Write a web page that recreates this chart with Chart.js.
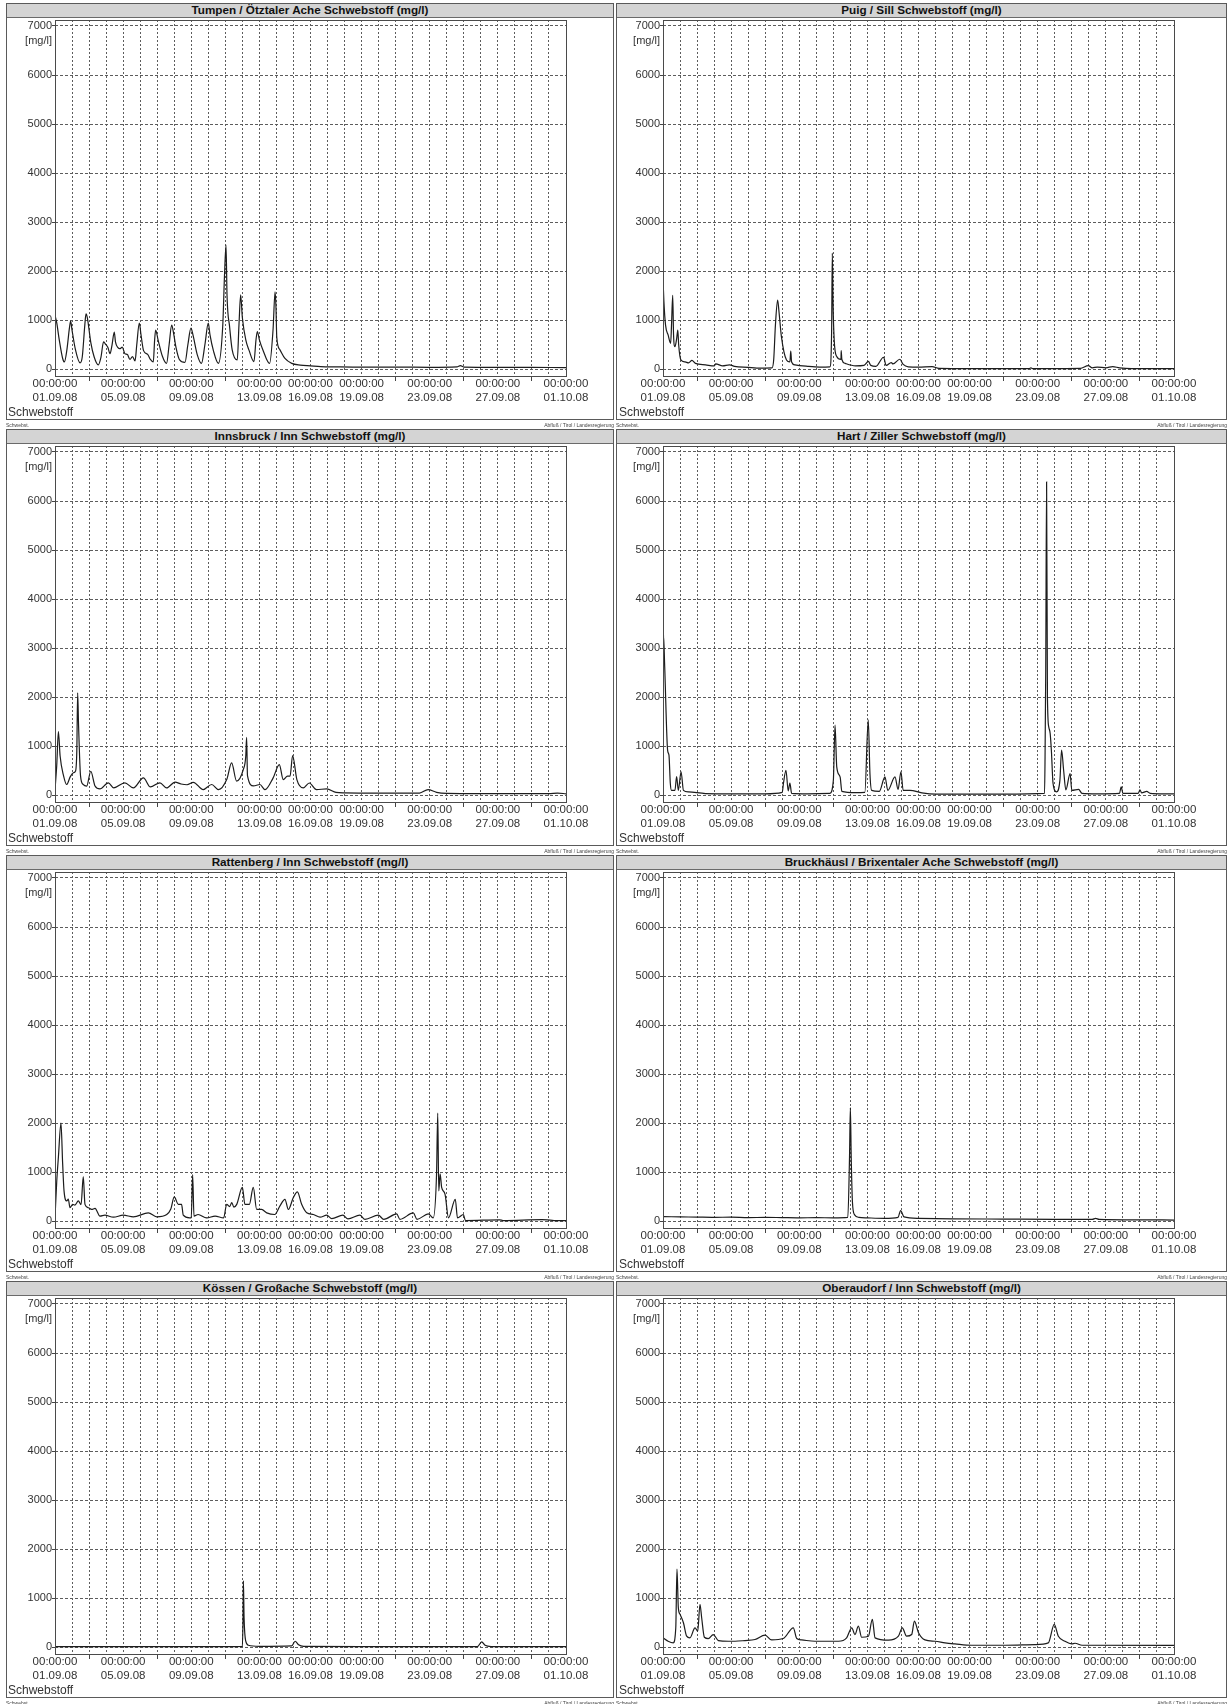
<!DOCTYPE html>
<html>
<head>
<meta charset="utf-8">
<script src="https://cdn.jsdelivr.net/npm/chart.js@4.4.1/dist/chart.umd.min.js"></script>
<style>
  html, body { margin: 0; padding: 0; background: #fff; }
  #page { position: relative; width: 1228px; height: 1704px; font-family: "Liberation Sans", Arial, sans-serif; overflow: hidden; }
  .panel { position: absolute; }
  .frame { position: absolute; left: 0; top: 0; right: 0; bottom: 0; border: 1px solid #5a5a5a; box-sizing: border-box; pointer-events: none; }
  .title { position: absolute; left: 0; right: 0; top: 0; height: 15px; background: #d4d4d4; border-bottom: 1px solid #6a6a6a; box-sizing: border-box;
           font-weight: bold; font-size: 11.7px; line-height: 14px; text-align: center; color: #111; white-space: nowrap; }
  canvas { position: absolute; left: 0; top: 15px; }
  .foot { position: absolute; top: 419px; font-size: 5px; line-height: 6px; color: #444; white-space: nowrap; }
</style>
</head>
<body>
<div id="page"></div>
<script>
// ---- axis definitions ----
const yTicks = [0, 1000, 2000, 3000, 4000, 5000, 6000, 7000];
const dayGrid = Array.from({ length: 31 }, (_, i) => i);          // one grid line per day, 01.09 .. 01.10
const labelDays = [0, 4, 8, 12, 15, 18, 22, 26, 30];
const labelDates = ['01.09.08', '05.09.08', '09.09.08', '13.09.08', '16.09.08', '19.09.08', '23.09.08', '27.09.08', '01.10.08'];
const labelTime = '00:00:00';
const minorTickDays = [2, 6, 10, 20, 24, 28];

// ---- station titles ----
const titles = [
  'Tumpen / Ötztaler Ache Schwebstoff (mg/l)',
  'Puig / Sill Schwebstoff (mg/l)',
  'Innsbruck / Inn Schwebstoff (mg/l)',
  'Hart / Ziller Schwebstoff (mg/l)',
  'Rattenberg / Inn Schwebstoff (mg/l)',
  'Bruckhäusl / Brixentaler Ache Schwebstoff (mg/l)',
  'Kössen / Großache Schwebstoff (mg/l)',
  'Oberaudorf / Inn Schwebstoff (mg/l)'
];

// ---- suspended sediment, [day since 01.09.08 00:00, mg/l] ----
const tumpen = [
  [0,1100],[0.1,950],[0.25,600],[0.45,220],[0.55,150],[0.7,400],[0.85,850],[0.92,980],[1.0,800],[1.2,400],[1.47,130],[1.6,250],
  [1.75,900],[1.82,1130],[1.9,1050],[2.1,550],[2.3,250],[2.54,90],[2.7,250],[2.85,560],[2.95,520],[3.1,450],[3.23,320],[3.35,500],
  [3.48,760],[3.55,560],[3.7,440],[3.8,420],[3.95,450],[4.1,320],[4.25,300],[4.4,200],[4.55,260],[4.7,170],[4.8,500],[4.95,940],
  [5.05,700],[5.2,380],[5.45,300],[5.6,200],[5.77,150],[5.85,600],[5.91,800],[6.05,600],[6.3,270],[6.55,120],[6.7,500],[6.85,900],
  [6.95,760],[7.1,450],[7.3,200],[7.63,140],[7.8,500],[7.98,840],[8.1,700],[8.35,300],[8.6,120],[8.8,500],[9.0,940],[9.1,700],
  [9.3,380],[9.59,120],[9.85,900],[9.95,1900],[10.04,2530],[10.1,1500],[10.25,870],[10.4,400],[10.7,190],[10.8,900],[10.9,1520],
  [11.0,1050],[11.2,600],[11.4,380],[11.68,155],[11.8,600],[11.88,770],[12.0,600],[12.2,400],[12.6,120],[12.8,800],[12.92,1580],
  [12.97,1300],[13.02,650],[13.2,400],[13.5,220],[13.9,120],[14.4,85],[15.0,70],[15.6,55],[16.5,50],[18,45],[20,45],[22,40],
  [23.6,50],[23.8,75],[24.0,45],[26,40],[28,38],[30,35]
];
const puig = [
  [0,1850],[0.05,1400],[0.15,900],[0.3,700],[0.45,530],[0.5,900],[0.57,1510],[0.62,700],[0.7,460],[0.8,620],[0.87,800],[0.92,500],
  [1.05,190],[1.3,150],[1.5,130],[1.7,180],[1.9,120],[2.5,90],[3,70],[3.1,110],[3.5,70],[3.9,90],[4.2,60],[5,40],[5.5,25],[6.4,30],
  [6.5,200],[6.6,900],[6.73,1410],[6.8,1210],[6.95,670],[7.25,190],[7.45,150],[7.5,370],[7.55,150],[7.75,90],[8.5,60],[9.2,45],
  [9.8,50],[9.9,800],[9.94,2370],[9.98,1400],[10.05,600],[10.2,260],[10.45,200],[10.46,380],[10.5,200],[10.7,120],[11.3,70],
  [11.8,80],[12.06,160],[12.2,80],[12.5,60],[12.95,245],[13.1,80],[13.4,136],[13.5,110],[13.9,205],[14.1,100],[14.4,50],[15,45],
  [15.8,55],[16.2,20],[18,15],[21.5,15],[21.6,30],[21.7,15],[24.5,20],[24.97,75],[25.2,30],[25.5,45],[26.0,30],[26.4,55],[26.8,30],
  [27.5,15],[30,15]
];
const innsbruck = [
  [0,115],[0.1,600],[0.2,1300],[0.3,800],[0.5,400],[0.68,220],[0.9,380],[1.08,460],[1.2,490],[1.28,900],[1.33,2090],[1.38,1470],
  [1.5,390],[1.65,220],[1.86,185],[2.1,490],[2.35,190],[2.64,130],[3.13,255],[3.45,150],[4.1,255],[4.6,150],[5.19,355],[5.6,170],
  [6.16,255],[6.55,150],[7.05,270],[7.4,230],[7.75,215],[8.12,265],[8.7,115],[9.2,220],[9.6,115],[10.08,320],[10.37,660],
  [10.66,290],[11.05,520],[11.2,800],[11.25,1180],[11.3,400],[11.65,190],[12.03,220],[12.33,115],[12.8,350],[13.17,625],
  [13.4,320],[13.65,390],[13.8,390],[13.95,810],[14.2,320],[14.58,150],[14.93,250],[15.35,115],[15.95,130],[16.5,60],[17,50],
  [19,45],[21.4,45],[21.9,115],[22.4,60],[23,40],[25,35],[27,35],[29,35],[29.5,45],[30,30]
];
const hart = [
  [0,1500],[0.03,3260],[0.1,2620],[0.27,920],[0.35,820],[0.43,240],[0.5,100],[0.7,100],[0.8,380],[0.9,100],[1.06,480],[1.2,100],
  [1.5,70],[2.5,35],[4,30],[6,30],[7.0,60],[7.07,240],[7.22,510],[7.35,90],[7.45,250],[7.55,40],[8.5,30],[9.8,40],[10.0,300],
  [10.1,1430],[10.2,580],[10.4,370],[10.5,80],[11.3,55],[11.85,60],[12.05,1540],[12.15,440],[12.25,100],[12.7,80],[13.03,375],
  [13.2,100],[13.62,375],[13.8,120],[13.97,480],[14.1,100],[14.5,100],[15.2,50],[16,25],[20,25],[22.4,40],[22.43,780],[22.47,2550],
  [22.52,6390],[22.57,2000],[22.65,1390],[22.73,1260],[22.8,920],[22.9,240],[23.1,70],[23.3,300],[23.4,920],[23.52,510],[23.65,110],
  [23.9,440],[24.0,100],[24.4,120],[24.6,40],[25.5,30],[26.8,40],[26.9,170],[27.0,40],[27.9,40],[28.0,110],[28.1,50],[28.4,80],
  [28.6,40],[29.4,30],[30,30]
];
const rattenberg = [
  [0,70],[0.1,800],[0.2,1310],[0.35,2000],[0.45,1170],[0.53,620],[0.69,415],[0.78,450],[0.88,280],[1.04,345],[1.17,330],[1.37,415],
  [1.53,340],[1.66,910],[1.76,345],[1.96,276],[2.15,241],[2.35,262],[2.64,104],[2.93,124],[3.43,83],[4.0,124],[4.6,90],[5.48,172],
  [5.97,90],[6.56,138],[6.8,250],[7.0,497],[7.24,345],[7.43,345],[7.53,124],[7.9,70],[8.0,70],[8.08,950],[8.16,104],[8.4,138],
  [8.9,69],[9.4,104],[9.9,69],[10.08,345],[10.25,300],[10.38,380],[10.5,290],[10.67,345],[11.0,690],[11.15,345],[11.41,345],
  [11.64,690],[11.84,241],[12.13,241],[12.43,172],[12.9,138],[13.2,310],[13.5,448],[13.7,240],[13.99,483],[14.23,600],[14.48,345],
  [14.78,172],[15.17,138],[15.56,83],[15.95,124],[16.25,55],[16.9,124],[17.2,48],[17.9,124],[18.2,40],[18.98,124],[19.3,40],
  [20.06,150],[20.25,40],[21.04,170],[21.25,40],[21.92,150],[22.2,70],[22.4,966],[22.47,2208],[22.53,620],[22.61,966],[22.7,690],
  [22.9,550],[23.1,70],[23.5,448],[23.63,70],[23.97,138],[24.1,15],[26.1,30],[26.3,15],[28.6,35],[28.9,30],[29.3,15],[30,15]
];
const bruckhaeusl = [
  [0,95],[1,90],[2,85],[3,80],[4,85],[5,75],[6,80],[7,75],[8,70],[9,75],[10,70],[10.85,80],[10.95,1300],[11.0,2320],[11.05,1300],
  [11.12,400],[11.25,130],[11.5,80],[12,70],[13,60],[13.8,80],[13.95,220],[14.15,90],[15,60],[17,50],[20,45],[23,40],[25.2,40],
  [25.4,60],[25.6,40],[28,30],[30,25]
];
const koessen = [
  [0,15],[5,15],[10,15],[11.0,20],[11.04,600],[11.06,1356],[11.1,603],[11.2,123],[11.35,41],[12,20],[13.9,30],[14.1,123],[14.3,50],
  [14.6,20],[18,15],[24.8,15],[25.05,110],[25.25,40],[25.6,15],[30,15]
];
const oberaudorf = [
  [0,192],[0.3,123],[0.6,89],[0.75,397],[0.82,1596],[0.9,808],[1.0,671],[1.2,500],[1.39,226],[1.58,192],[1.88,397],[2.04,329],
  [2.17,877],[2.27,603],[2.43,205],[2.66,178],[2.95,260],[3.25,137],[3.84,123],[4.23,123],[4.81,137],[5.4,158],[5.99,247],
  [6.38,150],[7.06,178],[7.65,397],[7.85,178],[8.14,150],[8.92,123],[9.71,123],[10.3,123],[10.78,192],[11.08,397],[11.27,260],
  [11.47,432],[11.66,205],[12.06,226],[12.29,568],[12.45,192],[13.23,144],[13.82,226],[14.05,397],[14.3,226],[14.6,260],
  [14.76,534],[15.0,295],[15.38,150],[15.97,123],[16.56,89],[17.14,68],[18.12,41],[20.08,41],[21.84,55],[22.62,89],[22.97,466],
  [23.21,226],[23.6,123],[23.99,68],[24.19,82],[24.6,41],[30,40]
];
const series = [tumpen, puig, innsbruck, hart, rattenberg, bruckhaeusl, koessen, oberaudorf];

// ---- panel geometry (page pixels) ----
const ROW_H = 426;
const cols = [
  { x: 6, w: 608, plotL: 55, plotR: 566, footX: 2 },
  { x: 616, w: 611, plotL: 663, plotR: 1174, footX: 3 }
];
const CANVAS_H = 402;
const AREA_TOP = 2, AREA_BOTTOM = 358;   // chart area inside the canvas
const Y_MIN = -137, Y_MAX = 7122;

// draws the plot frame, the unit label and the quantity name
const framePlugin = {
  id: 'frame',
  afterDraw(chart, args, opts) {
    const { ctx, chartArea: a, scales } = chart;
    ctx.save();
    ctx.strokeStyle = '#4a4a4a';
    ctx.lineWidth = 1;
    ctx.setLineDash([]);
    ctx.strokeRect(Math.round(a.left) + 0.5, Math.round(a.top) + 0.5, Math.round(a.right - a.left), Math.round(a.bottom - a.top));
    ctx.fillStyle = '#333';
    ctx.font = '11px "Liberation Sans", Arial, sans-serif';
    ctx.textAlign = 'right';
    ctx.textBaseline = 'middle';
    ctx.fillText('[mg/l]', a.left - 3, scales.y.getPixelForValue(7000) + 15);
    ctx.textAlign = 'left';
    ctx.font = '12px "Liberation Sans", Arial, sans-serif';
    ctx.fillText('Schwebstoff', opts.footX, 395);
    ctx.restore();
  }
};

const page = document.getElementById('page');

series.forEach((pts, i) => {
  const col = cols[i % 2];
  const row = Math.floor(i / 2);
  const panel = document.createElement('div');
  panel.className = 'panel';
  panel.style.left = col.x + 'px';
  panel.style.top = (row * ROW_H + 3) + 'px';
  panel.style.width = col.w + 'px';
  panel.style.height = '417px';

  const title = document.createElement('div');
  title.className = 'title';
  title.textContent = titles[i];
  panel.appendChild(title);

  const canvas = document.createElement('canvas');
  canvas.width = col.w;
  canvas.height = CANVAS_H;
  canvas.style.width = col.w + 'px';
  canvas.style.height = CANVAS_H + 'px';
  panel.appendChild(canvas);

  const frame = document.createElement('div');
  frame.className = 'frame';
  panel.appendChild(frame);

  const footL = document.createElement('div');
  footL.className = 'foot';
  footL.style.left = '0px';
  footL.textContent = 'Schwebst.';
  panel.appendChild(footL);
  const footR = document.createElement('div');
  footR.className = 'foot';
  footR.style.right = '0px';
  footR.textContent = 'Abfluß / Tirol / Landesregierung';
  panel.appendChild(footR);

  page.appendChild(panel);

  const leftW = col.plotL - col.x;
  const rightPad = col.w - (col.plotR - col.x);

  new Chart(canvas, {
    type: 'line',
    data: {
      datasets: [{
        data: pts.map(([x, y]) => ({ x, y })),
        borderColor: '#1c1c1c',
        borderWidth: 1.2,
        pointRadius: 0,
        cubicInterpolationMode: 'monotone',
        fill: false
      }]
    },
    plugins: [framePlugin],
    options: {
      responsive: false,
      animation: false,
      devicePixelRatio: 1,
      events: [],
      layout: { padding: { left: 0, right: rightPad, top: AREA_TOP, bottom: 0 } },
      plugins: {
        legend: { display: false },
        tooltip: { enabled: false },
        frame: { footX: col.footX }
      },
      scales: {
        x: {
          type: 'linear',
          min: 0,
          max: 30,
          afterBuildTicks: s => { s.ticks = dayGrid.map(v => ({ value: v })); },
          afterFit: s => { s.height = CANVAS_H - AREA_BOTTOM; s.paddingLeft = 0; s.paddingRight = 0; },
          border: { display: false, dash: [2, 2] },
          grid: {
            color: '#5c5c5c',
            lineWidth: 1,
            drawTicks: true,
            tickLength: 5,
            tickColor: c => (c.tick && minorTickDays.includes(c.tick.value)) ? '#444' : 'rgba(0,0,0,0)'
          },
          ticks: {
            autoSkip: false,
            maxRotation: 0,
            minRotation: 0,
            padding: -4,
            color: '#333',
            font: { family: '"Liberation Sans", Arial, sans-serif', size: 11.5 },
            callback: v => {
              const k = labelDays.indexOf(v);
              return k >= 0 ? [labelTime, labelDates[k]] : '';
            }
          }
        },
        y: {
          type: 'linear',
          min: Y_MIN,
          max: Y_MAX,
          afterBuildTicks: s => { s.ticks = yTicks.map(v => ({ value: v })); },
          afterFit: s => { s.width = leftW; s.paddingTop = 0; s.paddingBottom = 0; },
          border: { display: false, dash: [3, 2] },
          grid: { color: '#5c5c5c', lineWidth: 1, drawTicks: true, tickLength: 3, tickColor: '#444' },
          ticks: {
            autoSkip: false,
            padding: 0,
            color: '#333',
            font: { family: '"Liberation Sans", Arial, sans-serif', size: 11 },
            callback: v => String(v)
          }
        }
      }
    }
  });
});
</script>
</body>
</html>
